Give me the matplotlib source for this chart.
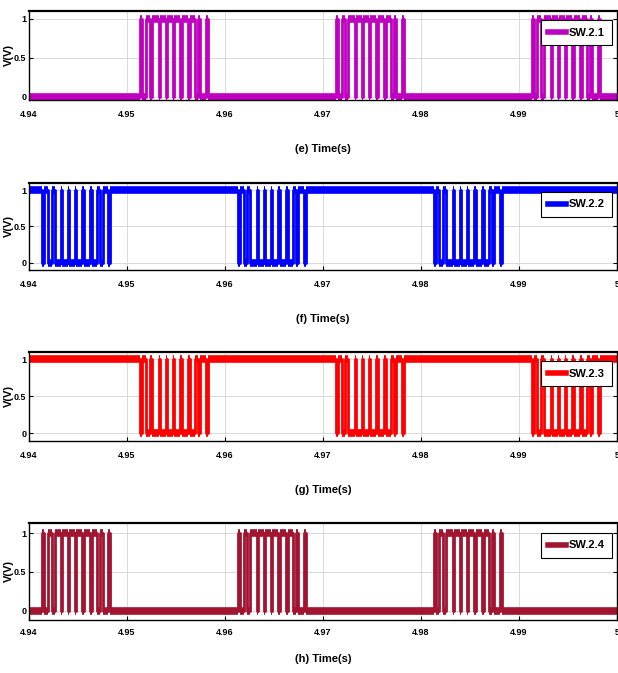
import matplotlib
matplotlib.use('Agg')
import matplotlib.pyplot as plt
from matplotlib import font_manager

# 选一个窄体字体，没有就退回 Liberation Sans
installed = {f.name for f in font_manager.fontManager.ttflist}
narrow = 'Liberation Sans Narrow' if 'Liberation Sans Narrow' in installed else 'Liberation Sans'
plt.rcParams['font.family'] = [narrow, 'DejaVu Sans']

# 时间窗口 (s)
t_start, t_end = 4.94, 5.0
xticks = [4.94, 4.95, 4.96, 4.97, 4.98, 4.99, 5.0]
xtick_labels = ['4.94', '4.95', '4.96', '4.97', '4.98', '4.99', '5']

# 每个半周期内的脉冲 (相对起始时刻, ms)
pulse_on_ms = [0.00, 0.60, 1.30, 2.10, 2.80, 3.50, 4.30, 5.10, 5.95, 6.75]
pulse_off_ms = [0.25, 1.00, 1.95, 2.70, 3.40, 4.15, 4.95, 5.65, 6.20, 7.00]

# 各开关脉冲组起始时刻 (s)
sw21_bursts = [4.9513, 4.9713, 4.9913]
sw24_bursts = [4.9413, 4.9613, 4.9813]

names = ['SW.2.1', 'SW.2.2', 'SW.2.3', 'SW.2.4']
colors = ['#C000C0', '#0000FF', '#FF0000', '#A2142F']
captions = ['(e) Time(s)', '(f) Time(s)', '(g) Time(s)', '(h) Time(s)']
# 互补关系: 2.2 = not 2.4, 2.3 = not 2.1
bursts_of = [sw21_bursts, sw24_bursts, sw21_bursts, sw24_bursts]
inverted = [False, True, True, False]


def gate_signal(bursts, invert):
    t = [t_start]
    v = [0]
    for b in bursts:
        for on, off in zip(pulse_on_ms, pulse_off_ms):
            t += [b + on / 1000, b + off / 1000]
            v += [1, 0]
    t.append(t_end)
    v.append(0)
    if invert:
        v = [1 - x for x in v]
    return t, v


fig = plt.figure(figsize=(6.18, 6.73), dpi=100)
# 子图位置 [left, bottom, width, height]
boxes = [
    [0.047, 0.8514, 0.951, 0.1323],
    [0.047, 0.5988, 0.951, 0.1293],
    [0.047, 0.3450, 0.951, 0.1320],
    [0.047, 0.0788, 0.951, 0.1441],
]
ylims = [(-0.04, 1.1), (-0.1, 1.1), (-0.1, 1.1), (-0.12, 1.13)]
label_pads = [18, 18, 18, 12]
tick_pads = [7, 7, 7, 6]

for i in range(4):
    ax = fig.add_axes(boxes[i])
    t, v = gate_signal(bursts_of[i], inverted[i])
    ax.step(t, v, where='post', color=colors[i], lw=2.0, label=names[i])
    ax.hlines(v[:-1], t[:-1], t[1:], color=colors[i], lw=5.5)
    ax.set_xlim(t_start, t_end)
    ax.set_ylim(*ylims[i])
    ax.set_xticks(xticks)
    ax.set_xticklabels(xtick_labels)
    ax.set_yticks([0, 0.5, 1])
    ax.set_yticklabels(['0', '0.5', '1'])
    ax.tick_params(direction='in', length=3, labelsize=6.5, right=True, top=False)
    ax.tick_params(axis='x', pad=tick_pads[i])
    ax.tick_params(axis='y', pad=2)
    for lab in ax.get_xticklabels() + ax.get_yticklabels():
        lab.set_fontweight('bold')
    ax.grid(True, color='#d9d9d9', lw=0.7)
    ax.set_axisbelow(True)
    for s in ax.spines.values():
        s.set_linewidth(1.0)
    ax.spines['top'].set_linewidth(1.6)
    ax.set_xlabel(captions[i], fontsize=8, fontweight='bold', labelpad=label_pads[i])
    ax.set_ylabel('V(V)', fontsize=8, fontweight='bold')
    ax.yaxis.set_label_coords(-0.026, 0.5)
    leg = ax.legend(loc='upper right', bbox_to_anchor=(0.992, 0.9), borderaxespad=0,
                    prop={'size': 8, 'weight': 'bold'}, handlelength=1.6,
                    handletextpad=0.2, borderpad=0.7,
                    fancybox=False, framealpha=1, edgecolor='black')
    leg.get_frame().set_linewidth(0.8)
    for h in leg.get_lines():
        h.set_linewidth(4)

fig.savefig('out.png', dpi=100)
